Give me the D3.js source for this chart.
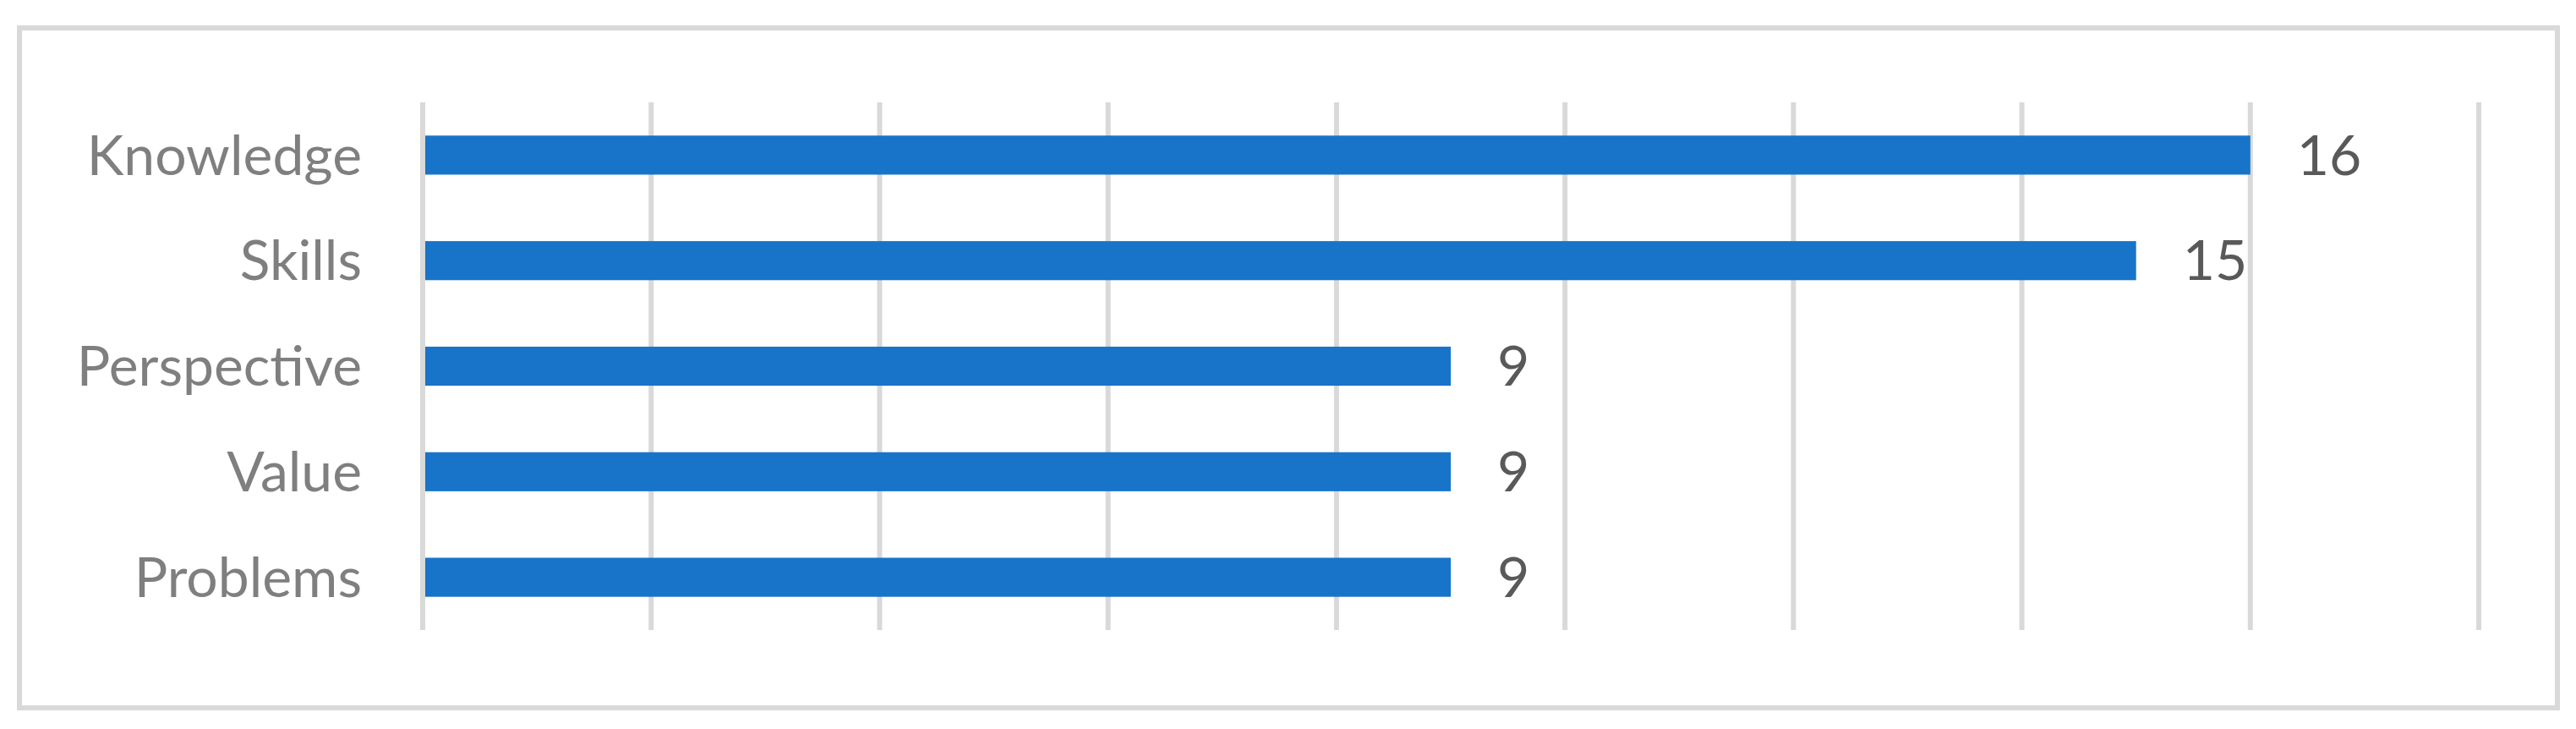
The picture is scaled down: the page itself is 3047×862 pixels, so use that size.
<!DOCTYPE html>
<html>
<head>
<meta charset="utf-8">
<script src="https://cdn.jsdelivr.net/npm/d3@7"></script>
<style>
  body { margin: 0; background: #fff; }
</style>
</head>
<body>
<div id="chart"></div>
<script>
const categories = ["Knowledge", "Skills", "Perspective", "Value", "Problems"];
const values = [16, 15, 9, 9, 9];
const xTicks = [0, 2, 4, 6, 8, 10, 12, 14, 16, 18];

const W = 3047, H = 862;
const margin = { top: 121, left: 500, right: W - 2932, bottom: H - 745 };

const svg = d3.select("#chart").append("svg")
  .attr("width", W).attr("height", H);

svg.append("rect")
  .attr("x", 23).attr("y", 33).attr("width", 3002).attr("height", 804)
  .attr("fill", "#fff").attr("stroke", "#d9d9d9").attr("stroke-width", 6);

const x = d3.scaleLinear().domain([0, 18]).range([margin.left, W - margin.right]);
const y = d3.scaleBand().domain(categories)
  .range([margin.top, H - margin.bottom]).paddingInner(0.63).paddingOuter(0.315);

svg.append("g")
  .selectAll("line")
  .data(xTicks)
  .join("line")
  .attr("x1", d => x(d)).attr("x2", d => x(d))
  .attr("y1", margin.top).attr("y2", H - margin.bottom)
  .attr("stroke", "#d9d9d9").attr("stroke-width", 6);

svg.append("g")
  .selectAll("rect")
  .data(values)
  .join("rect")
  .attr("x", x(0) + 3)
  .attr("y", (d, i) => y(categories[i]))
  .attr("width", d => x(d) - x(0) - 3)
  .attr("height", y.bandwidth())
  .attr("fill", "#1874c8");

svg.append("g")
  .selectAll("text")
  .data(categories)
  .join("text")
  .attr("x", 428)
  .attr("y", d => y(d) + y.bandwidth() / 2)
  .attr("dy", "0.35em")
  .attr("text-anchor", "end")
  .attr("font-family", "Lato, 'Open Sans', sans-serif")
  .attr("font-size", 66)
  .attr("fill", "#7f7f7f")
  .text(d => d);

svg.append("g")
  .selectAll("text")
  .data(values)
  .join("text")
  .attr("x", d => x(d) + 55)
  .attr("y", (d, i) => y(categories[i]) + y.bandwidth() / 2)
  .attr("dy", "0.35em")
  .attr("font-family", "Lato, 'Open Sans', sans-serif")
  .attr("font-size", 66)
  .attr("fill", "#595959")
  .text(d => d);
</script>
</body>
</html>
